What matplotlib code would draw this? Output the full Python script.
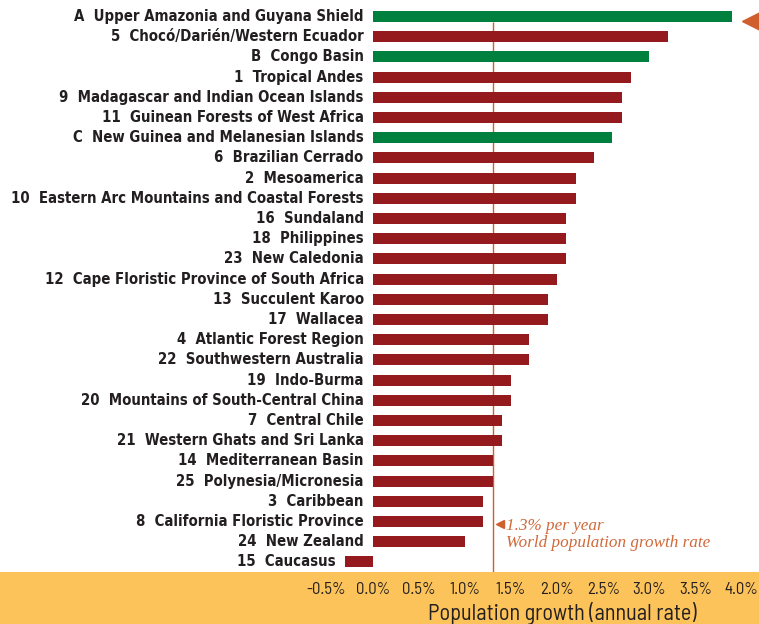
import matplotlib.pyplot as plt
from matplotlib.patches import Rectangle

codes = ["A", "5", "B", "1", "9", "11", "C", "6", "2", "10", "16", "18", "23", "12",
         "13", "17", "4", "22", "19", "20", "7", "21", "14", "25", "3", "8", "24", "15"]
names = ["Upper Amazonia and Guyana Shield", "Chocó/Darién/Western Ecuador", "Congo Basin",
         "Tropical Andes", "Madagascar and Indian Ocean Islands", "Guinean Forests of West Africa",
         "New Guinea and Melanesian Islands", "Brazilian Cerrado", "Mesoamerica",
         "Eastern Arc Mountains and Coastal Forests", "Sundaland", "Philippines", "New Caledonia",
         "Cape Floristic Province of South Africa", "Succulent Karoo", "Wallacea",
         "Atlantic Forest Region", "Southwestern Australia", "Indo-Burma",
         "Mountains of South-Central China", "Central Chile", "Western Ghats and Sri Lanka",
         "Mediterranean Basin", "Polynesia/Micronesia", "Caribbean",
         "California Floristic Province", "New Zealand", "Caucasus"]
growth = [3.9, 3.2, 3.0, 2.8, 2.7, 2.7, 2.6, 2.4, 2.2, 2.2, 2.1, 2.1, 2.1, 2.0,
          1.9, 1.9, 1.7, 1.7, 1.5, 1.5, 1.4, 1.4, 1.3, 1.3, 1.2, 1.2, 1.0, -0.3]
world_rate = 1.3
ticks = [-0.5, 0.0, 0.5, 1.0, 1.5, 2.0, 2.5, 3.0, 3.5, 4.0]

green = "#00803f"
red = "#951a1d"
orange = "#cf5f2c"
band = "#fcc35a"
dark = "#231f20"
narrow = ["Barlow Semi Condensed", "DejaVu Sans"]

fig = plt.figure(figsize=(7.59, 6.24), dpi=100)
W, H = 759, 624
# orange band along the bottom
fig.patches.append(Rectangle((0, 0), 1, 52 / H, transform=fig.transFigure,
                             facecolor=band, edgecolor="none", zorder=-10))

left_px, right_px = 322, 760
ax = fig.add_axes([left_px / W, 52 / H, (right_px - left_px) / W, 565.6 / H])
ax.set_facecolor("none")
ax.set_xlim(-0.55, 4.2)
ax.set_ylim(27.5, -0.5)

rows = list(range(len(growth)))
colors = [green if c.isalpha() else red for c in codes]
ax.barh(rows, growth, height=0.55, color=colors, zorder=3)

# world population growth line
ax.vlines(world_rate, 0.28, 27.5, color=orange, lw=1, zorder=2)
ax.plot([world_rate + 0.08], [25.1], marker="<", color=orange, ms=6, zorder=4)
ax.text(world_rate + 0.15, 25.2, "1.3% per year", color="#d0693a", fontsize=12.3,
        family="Liberation Serif", style="italic", va="center")
ax.text(world_rate + 0.15, 26.05, "World population growth rate", color="#d0693a",
        fontsize=12.3, family="Liberation Serif", style="italic", va="center")

# top arrow marker
ax.plot([4.1], [0.2], marker="<", color=orange, ms=13, clip_on=False, zorder=4)

# row labels
for i, (c, n, v) in enumerate(zip(codes, names, growth)):
    ax.annotate(c + "  " + n, xy=(min(0, v), i), xytext=(-9, 0), textcoords="offset pixels",
                ha="right", va="center", fontsize=10.75, fontweight="bold",
                family="DejaVu Sans", fontstretch="condensed", color=dark,
                annotation_clip=False)

ax.set_yticks([])
ax.set_xticks(ticks)
ax.set_xticklabels([f"{t:.1f}%" for t in ticks], family=narrow, fontsize=12, color=dark)
ax.tick_params(axis="x", length=0, pad=7)
ax.set_xlabel("Population growth (annual rate)", family=narrow, fontsize=16,
              color=dark, labelpad=4, x=0.548)
for s in ax.spines.values():
    s.set_visible(False)

fig.savefig("out.png", dpi=100)
